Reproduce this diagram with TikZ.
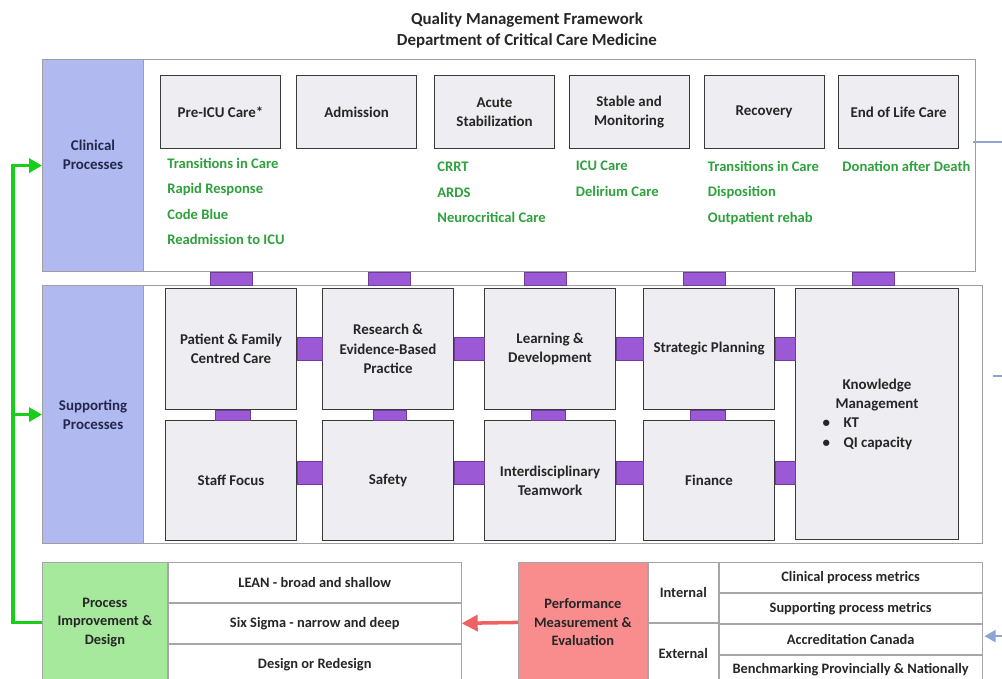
\documentclass[tikz,border=0pt]{standalone}
\usepackage{fontspec}
\setmainfont{Carlito}
\usetikzlibrary{positioning}
\usetikzlibrary{arrows.meta}

\definecolor{sideblue}{RGB}{176,185,240}
\definecolor{boxgray}{RGB}{238,238,242}
\definecolor{linkpurple}{RGB}{155,89,214}
\definecolor{itemgreen}{RGB}{46,160,60}
\definecolor{flowgreen}{RGB}{24,206,24}
\definecolor{pigreen}{RGB}{166,232,156}
\definecolor{pmred}{RGB}{249,140,140}
\definecolor{arrowred}{RGB}{238,98,98}
\definecolor{outblue}{RGB}{140,165,212}
\definecolor{labelnavy}{RGB}{35,40,75}

\tikzset{
  frame/.style={draw=gray!75, line width=0.7pt, anchor=north west, inner sep=0pt},
  side/.style={draw=gray!75, fill=sideblue, line width=0.7pt, anchor=north west, minimum width=2.02cm, text=labelnavy, align=center, inner sep=0pt},
  stagebox/.style={draw=gray!45!black, fill=boxgray, line width=0.6pt, minimum width=2.4cm, minimum height=1.46cm, align=center, inner sep=0pt},
  supbox/.style={draw=gray!45!black, fill=boxgray, line width=0.6pt, minimum width=2.62cm, minimum height=2.42cm, align=center, inner sep=0pt},
  items/.style={text=itemgreen, align=left, anchor=north west, inner sep=0pt, font=\bfseries\fontsize{8.3}{14.4}\selectfont},
  link/.style={fill=linkpurple, draw=linkpurple!70!black, line width=0.3pt},
  cell/.style={draw=gray!70, line width=0.5pt, inner sep=0pt, align=center, font=\bfseries\fontsize{8.2}{10.5}\selectfont},
  flow/.style={draw=flowgreen, line width=2pt, -{Triangle[length=2.6mm,width=2.8mm]}},
  flowred/.style={draw=arrowred, line width=2pt, -{Triangle[length=3.2mm,width=3.2mm]}},
  outline/.style={draw=outblue, line width=1.1pt},
}

\begin{document}
\begin{tikzpicture}[x=0.02cm, y=-0.02cm, every node/.style={font=\bfseries\fontsize{8.5}{11}\selectfont, text=black!85}]
\useasboundingbox (0,0) rectangle (1002,679);

% title
\node[font=\bfseries\fontsize{9.6}{11.9}\selectfont, align=center] (title) at (527,30) {Quality Management Framework\\Department of Critical Care Medicine};

% clinical processes
\node[frame, minimum width=18.66cm, minimum height=4.24cm] (clin) at (42,59) {};
\node[side, minimum height=4.24cm] (clinlab) at (42,59) {};
\node[align=center, text=labelnavy] (clintxt) at (93,155) {Clinical\\Processes};

\node[stagebox, anchor=north west] (pre) at (160,75) {Pre-ICU Care*};
\node[stagebox, right=0.3cm of pre] (adm) {Admission};
\node[stagebox, right=0.34cm of adm] (acute) {Acute\\Stabilization};
\node[stagebox, right=0.27cm of acute] (stable) {Stable and\\Monitoring};
\node[stagebox, right=0.28cm of stable] (recov) {Recovery};
\node[stagebox, right=0.27cm of recov] (eol) {End of Life Care};

\node[items] (preitems) at ([xshift=0.14cm,yshift=-0.18cm]pre.south west) {Transitions in Care\\Rapid Response\\Code Blue\\Readmission to ICU};
\node[items] (acuteitems) at ([xshift=0.06cm,yshift=-0.26cm]acute.south west) {CRRT\\ARDS\\Neurocritical Care};
\node[items] (stableitems) at ([xshift=0.14cm,yshift=-0.24cm]stable.south west) {ICU Care\\Delirium Care};
\node[items] (recovitems) at ([xshift=0.08cm,yshift=-0.24cm]recov.south west) {Transitions in Care\\Disposition\\Outpatient rehab};
\node[items] (eolitems) at ([xshift=0.08cm,yshift=-0.24cm]eol.south west) {Donation after Death};

% supporting processes
\node[frame, minimum width=18.8cm, minimum height=5.16cm] (sup) at (42,285) {};
\node[side, minimum height=5.16cm] (suplab) at (42,285) {Supporting\\Processes};

\foreach \x in {210,368,524,683,852}
  \fill[link] (\x,272) rectangle ++(42,13);

\node[supbox, anchor=north west] (pfcc) at (165,288) {Patient \& Family\\Centred Care};
\node[supbox, right=0.5cm of pfcc] (research) {Research \&\\Evidence-Based\\Practice};
\node[supbox, right=0.6cm of research] (learn) {Learning \&\\Development};
\node[supbox, right=0.54cm of learn] (strat) {Strategic Planning};
\node[supbox, anchor=north west, minimum width=3.26cm, minimum height=5.02cm] (km) at (795,288) {Knowledge\\Management\\\makebox[2.18cm][l]{\makebox[0.42cm][l]{\textbullet}KT}\\\makebox[2.18cm][l]{\makebox[0.42cm][l]{\textbullet}QI capacity}};

\node[supbox, below=0.2cm of pfcc, minimum height=2.4cm] (staff) {Staff Focus};
\node[supbox, below=0.2cm of research, minimum height=2.4cm] (safety) {Safety};
\node[supbox, below=0.2cm of learn, minimum height=2.4cm] (team) {Interdisciplinary\\Teamwork};
\node[supbox, below=0.2cm of strat, minimum height=2.4cm] (fin) {Finance};

% purple links
\coordinate (kmtop) at (strat.east -| km.west);
\coordinate (kmbot) at (fin.east -| km.west);
\fill[link] ([yshift=0.23cm]pfcc.east) rectangle ([yshift=-0.23cm]research.west);
\fill[link] ([yshift=0.23cm]research.east) rectangle ([yshift=-0.23cm]learn.west);
\fill[link] ([yshift=0.23cm]learn.east) rectangle ([yshift=-0.23cm]strat.west);
\fill[link] ([yshift=0.23cm]strat.east) rectangle ([yshift=-0.23cm]kmtop);
\fill[link] ([yshift=0.38cm]staff.east) rectangle ([yshift=-0.08cm]safety.west);
\fill[link] ([yshift=0.38cm]safety.east) rectangle ([yshift=-0.08cm]team.west);
\fill[link] ([yshift=0.38cm]team.east) rectangle ([yshift=-0.08cm]fin.west);
\fill[link] ([yshift=0.38cm]fin.east) rectangle ([yshift=-0.08cm]kmbot);
\fill[link] ([xshift=-0.32cm]pfcc.south) rectangle ([xshift=0.38cm]staff.north);
\fill[link] ([xshift=-0.3cm]research.south) rectangle ([xshift=0.36cm]safety.north);
\fill[link] ([xshift=-0.37cm]learn.south) rectangle ([xshift=0.31cm]team.north);
\fill[link] ([xshift=-0.37cm]strat.south) rectangle ([xshift=0.33cm]fin.north);

% process improvement
\node[cell, fill=pigreen, anchor=north west, minimum width=2.5cm, minimum height=2.4cm] (pid) at (42,562) {Process\\Improvement \&\\Design};
\node[cell, anchor=north west, minimum width=5.86cm, minimum height=0.8cm] (lean) at (pid.north east) {LEAN - broad and shallow};
\node[cell, below=0pt of lean, minimum width=5.86cm, minimum height=0.8cm] (sixsig) {Six Sigma - narrow and deep};
\node[cell, below=0pt of sixsig, minimum width=5.86cm, minimum height=0.8cm] (redesign) {Design or Redesign};

% performance measurement
\node[cell, fill=pmred, anchor=north west, minimum width=2.58cm, minimum height=2.4cm] (pme) at (518,562) {Performance\\Measurement \&\\Evaluation};
\node[cell, anchor=north west, minimum width=1.4cm, minimum height=1.2cm] (internal) at (pme.north east) {Internal};
\node[cell, below=0pt of internal, minimum width=1.4cm, minimum height=1.2cm] (external) {External};
\node[cell, anchor=north west, minimum width=5.26cm, minimum height=0.6cm] (clinmet) at (internal.north east) {Clinical process metrics};
\node[cell, below=0pt of clinmet, minimum width=5.26cm, minimum height=0.6cm] (supmet) {Supporting process metrics};
\node[cell, below=0pt of supmet, minimum width=5.26cm, minimum height=0.6cm] (accred) {Accreditation Canada};
\node[cell, below=0pt of accred, minimum width=5.26cm, minimum height=0.6cm] (bench) {Benchmarking Provincially \& Nationally};

% arrows
\coordinate (spine) at ([xshift=-0.58cm]suplab.west);
\draw[flow] (pid.west) -| (spine) |- (clinlab.west);
\draw[flow] (spine) -- (suplab.west);
\draw[flowred] (pme.west) -- (sixsig.east);

\coordinate (clinout) at ([xshift=0.8cm,yshift=0.48cm]clin.east);
\coordinate (supout) at ([xshift=0.8cm,yshift=0.78cm]sup.east);
\coordinate (accin) at ([xshift=0.8cm,yshift=0.06cm]accred.east);
\draw[outline] ([xshift=-0.06cm,yshift=0.48cm]clin.east) -- (clinout);
\draw[outline] ([xshift=0.2cm,yshift=0.78cm]sup.east) -- (supout);
\draw[outline, -{Triangle[length=2.2mm,width=2.4mm]}] (accin) -- ([xshift=0.04cm,yshift=0.06cm]accred.east);
\end{tikzpicture}
\end{document}
